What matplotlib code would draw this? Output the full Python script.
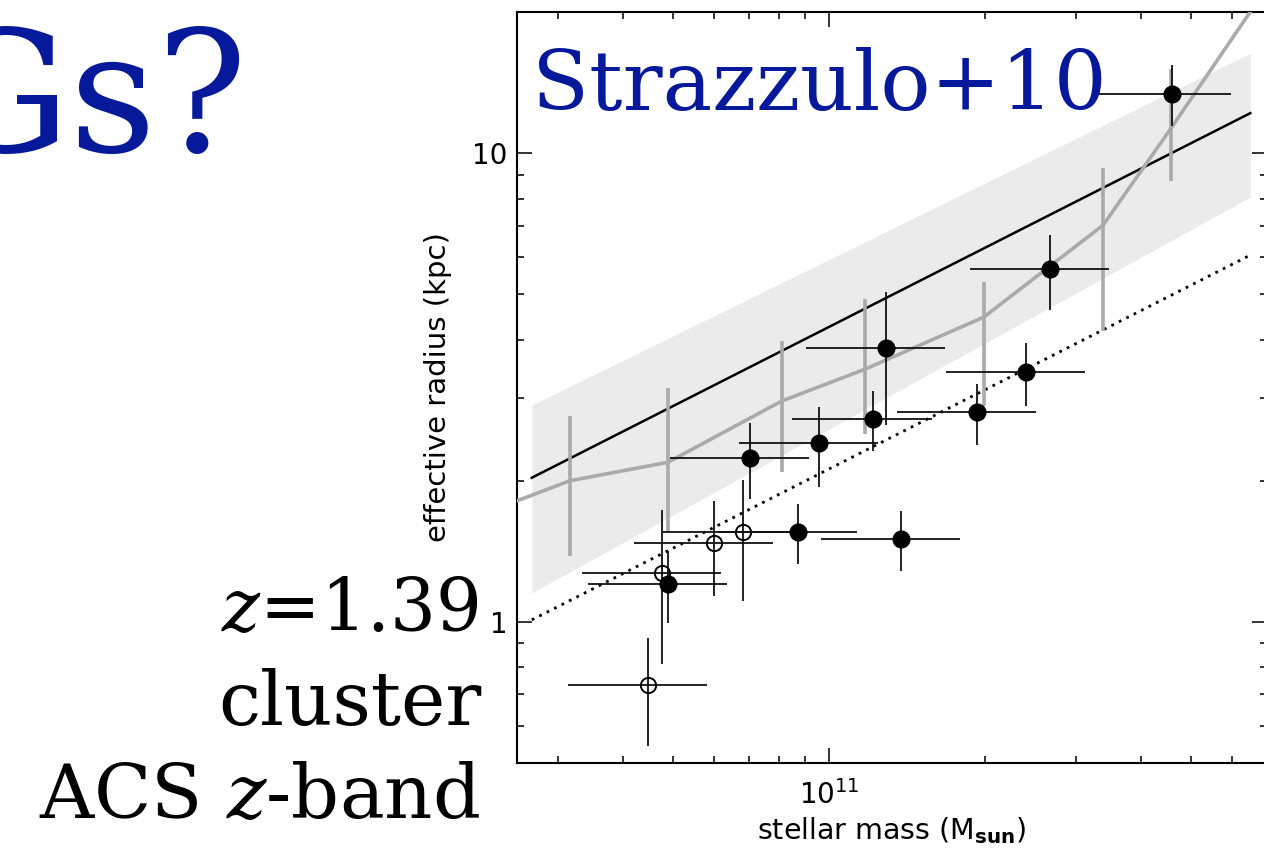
import matplotlib
matplotlib.use("Agg")
import matplotlib.pyplot as plt
from matplotlib.ticker import LogLocator, LogFormatterSciNotation, NullFormatter

plt.rcParams["font.family"] = ["DejaVu Sans"]
plt.rcParams["mathtext.fontset"] = "custom"
plt.rcParams["mathtext.rm"] = "DejaVu Sans"
plt.rcParams["mathtext.it"] = "DejaVu Serif:italic"
plt.rcParams["mathtext.bf"] = "DejaVu Sans:bold"

# ---- cluster galaxies (mass in 1e11 Msun, radius in kpc) ----
pas_mass = [4.59, 2.67, 1.288, 2.40, 1.216, 1.93, 0.956, 0.704, 0.871, 1.377, 0.489]
pas_mass_err = [1.38, 0.80, 0.385, 0.72, 0.366, 0.58, 0.285, 0.21, 0.26, 0.41, 0.146]
pas_re = [13.4, 5.66, 3.84, 3.41, 2.71, 2.80, 2.41, 2.24, 1.556, 1.503, 1.205]
pas_re_err = [2.0, 1.03, 1.21, 0.52, 0.40, 0.41, 0.47, 0.41, 0.23, 0.22, 0.21]

oth_mass = [0.476, 0.600, 0.682, 0.447]
oth_mass_err = [0.143, 0.18, 0.204, 0.134]
oth_re = [1.272, 1.474, 1.556, 0.734]
oth_re_err = [0.46, 0.34, 0.45, 0.19]

# ---- binned comparison sample ----
bin_mass = [0.203, 0.316, 0.489, 0.811, 1.174, 1.99, 3.38, 4.57, 7.76]
bin_re = [1.66, 2.00, 2.19, 2.96, 3.46, 4.47, 7.02, 11.3, 26.7]
bin_err_mass = [0.316, 0.489, 0.811, 1.174, 1.99, 3.38, 4.57]
bin_re_lo = [1.382, 1.556, 2.09, 2.52, 2.89, 4.17, 8.72]
bin_re_hi = [2.75, 3.15, 3.97, 4.88, 5.31, 9.29, 15.1]

# ---- local size-mass relation, scatter band and offset relation ----
rel_mass = [0.267, 6.50]
rel_re = [2.03, 12.17]
band_lo = [1.153, 8.06]
band_hi = [2.90, 16.34]
off_re = [1.01, 6.06]

W, H = 1264, 851
fig = plt.figure(figsize=(W / 100, H / 100), dpi=100)
ax = fig.add_axes([517 / W, (H - 763) / H, 750 / W, 751 / H])
ax.set_xscale("log")
ax.set_yscale("log")

def m(v):
    return [x * 1e11 for x in v]

ax.fill_between(m(rel_mass), band_lo, band_hi, color="#ebebeb", lw=0, zorder=1)
ax.plot(m(rel_mass), rel_re, color="black", lw=1.8, zorder=2)
ax.plot(m(rel_mass), off_re, color="black", lw=2.0, ls=(0, (1, 2)), zorder=2)

ax.plot(m(bin_mass), bin_re, color="#aaaaaa", lw=2.6, zorder=3)
ax.vlines(m(bin_err_mass), bin_re_lo, bin_re_hi, color="#aaaaaa", lw=2.6, zorder=3)

ax.errorbar(m(oth_mass), oth_re, xerr=m(oth_mass_err), yerr=oth_re_err, fmt="o",
            ms=11, mfc="none", mec="black", mew=1.4, ecolor="#111111",
            elinewidth=1.3, capsize=0, zorder=4)
ax.errorbar(m(pas_mass), pas_re, xerr=m(pas_mass_err), yerr=pas_re_err, fmt="o",
            ms=12, mfc="black", mec="black", ecolor="#111111",
            elinewidth=1.3, capsize=0, zorder=5)

ax.set_xlim(2.5e10, 7e11)
ax.set_ylim(0.5, 20)

ax.xaxis.set_major_locator(LogLocator(base=10, numticks=10))
ax.xaxis.set_minor_locator(LogLocator(base=10, subs=range(2, 10), numticks=20))
ax.xaxis.set_major_formatter(LogFormatterSciNotation())
ax.xaxis.set_minor_formatter(NullFormatter())
ax.yaxis.set_major_locator(LogLocator(base=10, numticks=10))
ax.yaxis.set_minor_locator(LogLocator(base=10, subs=range(2, 10), numticks=20))
ax.yaxis.set_major_formatter(plt.FuncFormatter(lambda v, p: "%g" % v))
ax.yaxis.set_minor_formatter(NullFormatter())

ax.tick_params(which="both", direction="in", top=True, right=True, width=1.1,
               labelsize=20)
ax.tick_params(which="major", length=11)
ax.tick_params(which="minor", length=5)
ax.tick_params(axis="x", pad=12)
ax.tick_params(axis="y", pad=7)
for s in ax.spines.values():
    s.set_linewidth(1.5)

ax.set_xlabel(r"stellar mass (M$_{\mathbf{sun}}$)", fontsize=20.5, labelpad=4)
ax.set_ylabel("effective radius (kpc)", fontsize=21, labelpad=14)

blue = "#06199a"
fig.text(532 / W, 1 - 110 / H, "Strazzulo+10", family="DejaVu Serif",
         fontsize=60, color=blue, ha="left", va="baseline")
fig.text(248 / W, 1 - 152 / H, "Gs?", family="DejaVu Serif",
         fontsize=122, color=blue, ha="right", va="baseline")

serif = dict(family="DejaVu Serif", color="black", ha="right", va="baseline")
fig.text(478 / W, 1 - 631 / H, r"$z$=1.39", fontsize=52, **serif)
fig.text(482 / W, 1 - 725 / H, "cluster", fontsize=54, **serif)
fig.text(480 / W, 1 - 818 / H, r"ACS $z$-band", fontsize=54, **serif)

fig.savefig("out.png", dpi=100)
